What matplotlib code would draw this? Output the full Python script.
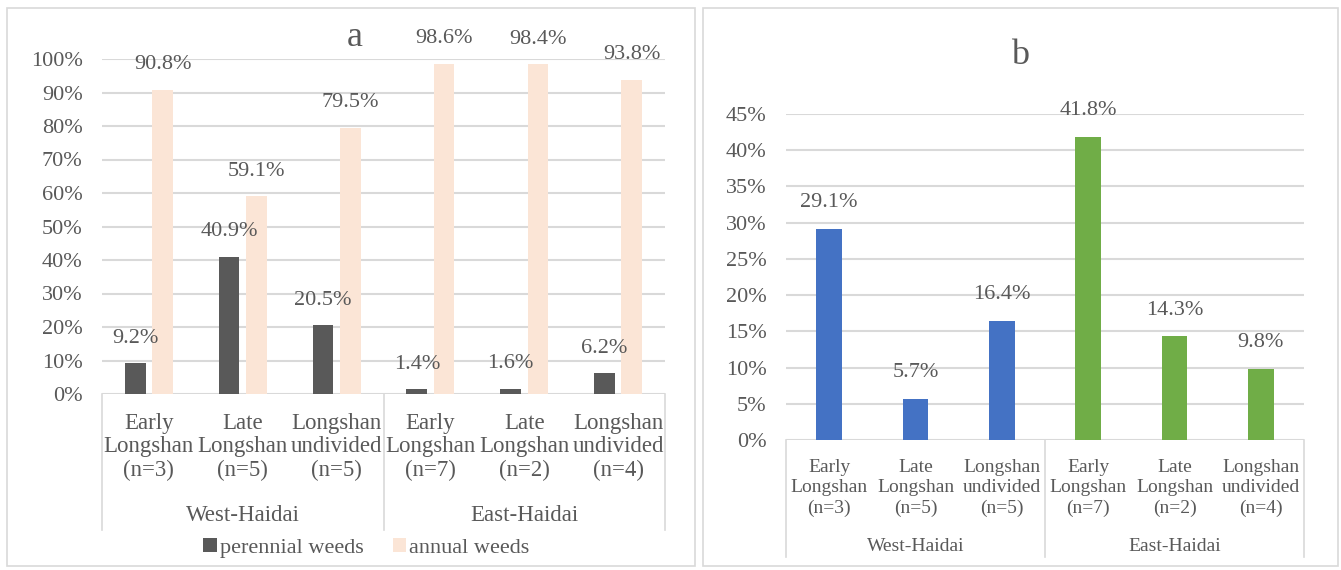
import matplotlib.pyplot as plt
from matplotlib.patches import Rectangle
import numpy as np

plt.rcParams['font.family'] = 'serif'
plt.rcParams['font.serif'] = ['Liberation Serif', 'DejaVu Serif']

cats = ['Early\nLongshan\n(n=3)', 'Late\nLongshan\n(n=5)', 'Longshan\nundivided\n(n=5)',
        'Early\nLongshan\n(n=7)', 'Late\nLongshan\n(n=2)', 'Longshan\nundivided\n(n=4)']
groups = ['West-Haidai', 'East-Haidai']
perennial = [9.2, 40.9, 20.5, 1.4, 1.6, 6.2]
annual = [90.8, 59.1, 79.5, 98.6, 98.4, 93.8]
ratio_b = [29.1, 5.7, 16.4, 41.8, 14.3, 9.8]

txt = '#595959'
grid = '#D9D9D9'
W, H = 1341, 570

fig = plt.figure(figsize=(W / 100, H / 100), dpi=100)

# panel frames
for x0, x1 in [(7, 695), (703, 1338)]:
    fig.patches.append(Rectangle((x0 / W, 1 - 566 / H), (x1 - x0) / W, 558 / H,
                                 transform=fig.transFigure, fill=False,
                                 edgecolor='#D9D9D9', lw=1.2))


def axes_px(l, r, top, bottom):
    return fig.add_axes([l / W, 1 - bottom / H, (r - l) / W, (bottom - top) / H])


def style(ax, ymax, step, cat_y, grp_y, line_y, fs, ls):
    ax.set_xlim(-0.5, 5.5)
    ax.set_ylim(0, ymax)
    ax.set_yticks(np.arange(0, ymax + 0.01, step))
    ax.set_yticklabels([f'{int(v)}%' for v in np.arange(0, ymax + 0.01, step)])
    ax.yaxis.grid(True, color=grid, lw=1.5)
    ax.set_axisbelow(True)
    for s in ax.spines.values():
        s.set_visible(False)
    ax.tick_params(axis='y', length=0, pad=14, labelsize=16, labelcolor=txt)
    ax.set_xticks([])
    tr = ax.get_xaxis_transform()
    for i, c in enumerate(cats):
        ax.text(i, cat_y, c, transform=tr, ha='center', va='center',
                fontsize=fs, color=txt, linespacing=ls)
    for g, gx in zip(groups, [1, 4]):
        ax.text(gx, grp_y, g, transform=tr, ha='center', va='center',
                fontsize=fs, color=txt)
    for xb in [-0.5, 2.5, 5.5]:
        ax.plot([xb, xb], [0, line_y], transform=tr, color=grid, lw=1.2,
                clip_on=False)


def label(ax, x, v, off):
    ax.annotate(f'{v}%', (x, v), xytext=(0, off), textcoords='offset points',
                ha='center', va='center', fontsize=16, color=txt)


# panel a
axa = axes_px(102, 665, 59, 394)
x = np.arange(6)
bw = 0.22
axa.bar(x - 0.145, perennial, bw, color='#595959', label='perennial weeds')
axa.bar(x + 0.145, annual, bw, color='#FBE5D6', label='annual weeds')
style(axa, 100, 10, -0.158, -0.364, -0.406, 16.5, 1.17)
for i in range(6):
    label(axa, i - 0.145, perennial[i], 18)
    label(axa, i + 0.145, annual[i], 18)
axa.legend(loc='center', bbox_to_anchor=(0.47, -0.46), ncol=2, frameon=False,
           fontsize=16, labelcolor=txt, handlelength=0.6, handleheight=0.6,
           handletextpad=0.15, columnspacing=1.3, borderpad=0)
fig.text(355 / W, 1 - 37 / H, 'a', ha='center', va='center', fontsize=26, color=txt)

# panel b
axb = axes_px(786, 1304, 114, 440)
colors_b = ['#4472C4'] * 3 + ['#70AD47'] * 3
axb.bar(x, ratio_b, 0.3, color=colors_b)
style(axb, 45, 5, -0.147, -0.328, -0.359, 14, 1.25)
for i in range(6):
    label(axb, i, ratio_b[i], 19)
fig.text(1020 / W, 1 - 55 / H, 'b', ha='center', va='center', fontsize=26, color=txt)

fig.savefig('out.png', dpi=100)
